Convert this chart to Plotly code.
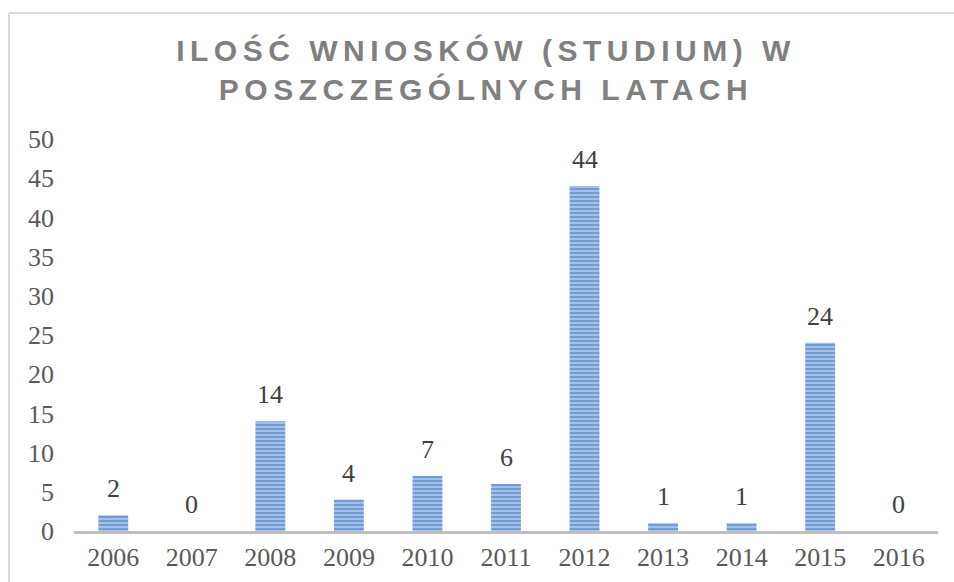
import plotly.graph_objects as go

years = ["2006", "2007", "2008", "2009", "2010", "2011", "2012", "2013", "2014", "2015", "2016"]
counts = [2, 0, 14, 4, 7, 6, 44, 1, 1, 24, 0]
title_text = "ILOŚĆ WNIOSKÓW (STUDIUM) W<br>POSZCZEGÓLNYCH LATACH"

W, H = 954, 582
ml, mr, mt, mb = 74, 16, 139, 51

fig = go.Figure(go.Bar(
    x=years, y=counts,
    width=0.38,
    marker=dict(
        color="#9dbbe5",
        line=dict(width=0),
        pattern=dict(shape="-", size=4, solidity=0.5, fgcolor="#4675be", bgcolor="#a3c0e8"),
    ),
))

for i, v in enumerate(counts):
    fig.add_annotation(
        x=i, y=v, xref="x", yref="y", text=str(v), showarrow=False,
        yanchor="bottom", yshift=10,
        font=dict(family="Liberation Serif", size=26, color="#404040"),
    )

fig.update_layout(
    width=W, height=H,
    margin=dict(l=ml, r=mr, t=mt, b=mb, autoexpand=False),
    paper_bgcolor="white", plot_bgcolor="white",
    showlegend=False,
    title=dict(
        text=title_text,
        x=0.5 + 9 / W, xref="container", xanchor="center",
        y=1 - 61 / H, yref="container", yanchor="middle",
        font=dict(family="Liberation Sans", size=30, color="#808080", weight="bold"),
    ),
    xaxis=dict(
        type="category",
        range=[-0.5, 10.5], showgrid=False, zeroline=False, automargin=False,
        showline=True, linecolor="#bfbfbf", linewidth=3,
        ticks="", tickfont=dict(family="Liberation Serif", size=26, color="#595959"),
        ticklabelstandoff=1,
    ),
    yaxis=dict(
        range=[0, 50], dtick=5, showgrid=False, zeroline=False, showline=False, automargin=False,
        ticks="", tickfont=dict(family="Liberation Serif", size=26, color="#595959"),
        ticklabelstandoff=19,
    ),
    shapes=[
        dict(type="line", xref="paper", yref="paper",
             x0=(9 - ml) / (W - ml - mr), x1=(W - ml) / (W - ml - mr),
             y0=(H - mb - 13) / (H - mt - mb), y1=(H - mb - 13) / (H - mt - mb),
             line=dict(color="#d9d9d9", width=2)),
        dict(type="line", xref="paper", yref="paper",
             x0=(9 - ml) / (W - ml - mr), x1=(9 - ml) / (W - ml - mr),
             y0=(H - mb - 13) / (H - mt - mb), y1=-(H) / (H - mt - mb),
             line=dict(color="#d9d9d9", width=2)),
    ],
)

post = """
document.body.style.margin = '0';
document.body.style.padding = '0';
function sp(){
  var t = document.querySelectorAll('.gtitle');
  t.forEach(function(e){ e.style.letterSpacing = '5.5px'; });
}
sp();
var gd = document.getElementsByClassName('plotly-graph-div')[0];
if (gd && gd.on) { gd.on('plotly_afterplot', sp); }
"""
fig.write_html("out.html", post_script=post, config={"displayModeBar": False})
